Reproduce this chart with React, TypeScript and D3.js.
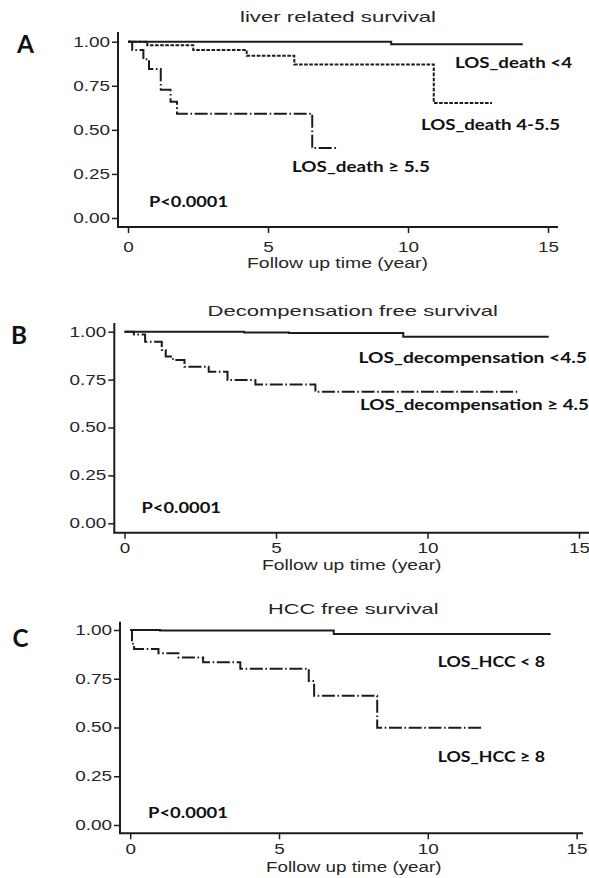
import { useEffect, useRef } from "react";
import * as d3 from "d3";

const W = 589;
const H = 878;
const SX = 1.35; // the source figure is stretched horizontally
const INK = "#1c1c1c";
const SANS = "'Liberation Sans', Arial, sans-serif";
const BOLD = "Lato, 'Open Sans', sans-serif";

const yTicks = [0, 0.25, 0.5, 0.75, 1];
const xTicks = [0, 5, 10, 15];

// A: liver related survival
const aLowT = [0, 9.4, 14.1];
const aLowS = [1, 0.985, 0.985];
const aMidT = [0, 0.69, 2.33, 4.24, 5.94, 10.92, 13.0];
const aMidS = [1, 0.98, 0.953, 0.92, 0.871, 0.653, 0.653];
const aHighT = [0, 0.15, 0.55, 0.75, 1.17, 1.52, 1.75, 6.58, 7.52];
const aHighS = [1, 0.953, 0.9, 0.845, 0.727, 0.66, 0.592, 0.397, 0.397];

// B: decompensation free survival
const bLowT = [0, 3.95, 5.43, 9.2, 14.0];
const bLowS = [1, 0.996, 0.993, 0.974, 0.974];
const bHighT = [0, 0.31, 0.68, 1.23, 1.36, 1.6, 1.98, 2.78, 3.4, 4.32, 6.3, 12.96];
const bHighS = [1, 0.986, 0.948, 0.904, 0.87, 0.852, 0.817, 0.791, 0.748, 0.725, 0.687, 0.687];

// C: HCC free survival
const cLowT = [0, 1.0, 6.84, 14.13];
const cLowS = [1, 0.998, 0.979, 0.979];
const cHighT = [0, 0.06, 0.13, 0.95, 1.62, 2.45, 3.7, 6.0, 6.18, 8.3, 11.85];
const cHighS = [1, 0.93, 0.903, 0.881, 0.859, 0.835, 0.801, 0.738, 0.663, 0.499, 0.499];

const DASH = { solid: null, dash: "3.6,1.5", dashdot: "13,2.6,1.6,2.6" };

const panels = [
  {
    letter: "A", letterX: 17, letterY: 53, letterW: 17,
    title: "liver related survival", titleX: 240, titleY: 22, titleW: 196,
    xr: [128, 548], yr: [218, 41.7],
    axisX: 118, yTop: 32, axisY: 227, xEnd: 558, xPad: 9,
    xlab: { x: 247, y: 268, w: 181 },
    series: [
      { t: aLowT, s: aLowS, style: "solid" },
      { t: aMidT, s: aMidS, style: "dash" },
      { t: aHighT, s: aHighS, style: "dashdot" },
    ],
    labels: [
      { text: "LOS_death <4", x: 455, y: 68, w: 117 },
      { text: "LOS_death 4-5.5", x: 421, y: 130, w: 139 },
      { text: "LOS_death ≥ 5.5", x: 292, y: 172, w: 138 },
      { text: "P<0.0001", x: 149, y: 207, w: 79 },
    ],
  },
  {
    letter: "B", letterX: 11, letterY: 344, letterW: 16,
    title: "Decompensation free survival", titleX: 207.5, titleY: 315.5, titleW: 290.5,
    xr: [124.5, 579], yr: [523.3, 331.7],
    axisX: 114.3, yTop: 323, axisY: 532.7, xEnd: 589, xPad: 4,
    xlab: { x: 262, y: 570, w: 179.5 },
    series: [
      { t: bLowT, s: bLowS, style: "solid" },
      { t: bHighT, s: bHighS, style: "dashdot" },
    ],
    labels: [
      { text: "LOS_decompensation <4.5", x: 358.5, y: 363, w: 228.5 },
      { text: "LOS_decompensation ≥ 4.5", x: 360, y: 410, w: 229 },
      { text: "P<0.0001", x: 141.5, y: 513, w: 79.5 },
    ],
  },
  {
    letter: "C", letterX: 12.5, letterY: 646.7, letterW: 16,
    title: "HCC free survival", titleX: 268, titleY: 613.5, titleW: 170.5,
    xr: [130.2, 576.6], yr: [825, 630],
    axisX: 120, yTop: 621.7, axisY: 833.3, xEnd: 583, xPad: 5,
    xlab: { x: 266, y: 872, w: 175.5 },
    series: [
      { t: cLowT, s: cLowS, style: "solid" },
      { t: cHighT, s: cHighS, style: "dashdot" },
    ],
    labels: [
      { text: "LOS_HCC < 8", x: 437.7, y: 667, w: 107.3 },
      { text: "LOS_HCC ≥ 8", x: 437.7, y: 762, w: 107.3 },
      { text: "P<0.0001", x: 148, y: 818, w: 80 },
    ],
  },
];

function FitText({ x, y, w, size, family, weight, fill, children }) {
  return (
    <text
      x={x}
      y={y}
      textLength={w}
      lengthAdjust="spacingAndGlyphs"
      fontSize={size}
      fontFamily={family}
      fontWeight={weight}
      fill={fill}
    >
      {children}
    </text>
  );
}

function Panel({ cfg }) {
  const gx = useRef(null);
  const gy = useRef(null);
  const x = d3.scaleLinear().domain([0, 15]).range(cfg.xr);
  const y = d3.scaleLinear().domain([0, 1]).range(cfg.yr);

  useEffect(() => {
    const xa = d3.select(gx.current);
    xa.selectAll("*").remove();
    xa.call(
      d3.axisBottom(x).tickValues(xTicks).tickSize(6).tickPadding(cfg.xPad).tickFormat(d3.format("d"))
    );
    xa.attr("font-size", 14).attr("font-family", SANS);
    xa.select(".domain").remove();
    xa.selectAll(".tick line").attr("stroke", INK).attr("stroke-width", 1.5);
    xa.selectAll(".tick text").attr("fill", "#262626").attr("transform", `scale(${SX},1)`);

    const ya = d3.select(gy.current);
    ya.selectAll("*").remove();
    ya.call(
      d3.axisLeft(y).tickValues(yTicks).tickSize(6).tickPadding(2).tickFormat(d3.format(".2f"))
    );
    ya.attr("font-size", 14).attr("font-family", SANS);
    ya.select(".domain").remove();
    ya.selectAll(".tick line").attr("stroke", INK).attr("stroke-width", 1.5);
    ya.selectAll(".tick text")
      .attr("fill", "#262626")
      .attr("x", -8 / SX)
      .attr("transform", `scale(${SX},1)`);
  });

  const line = (t) =>
    d3
      .line()
      .x((_, i) => x(t[i]))
      .y((d) => y(d))
      .curve(d3.curveStepAfter);

  return (
    <g>
      <FitText x={cfg.letterX} y={cfg.letterY} w={cfg.letterW} size={25} family={BOLD} weight={700} fill="#111">
        {cfg.letter}
      </FitText>
      <FitText x={cfg.titleX} y={cfg.titleY} w={cfg.titleW} size={15} family={SANS} weight={400} fill="#262626">
        {cfg.title}
      </FitText>
      {cfg.series.map((sr, i) => (
        <path
          key={i}
          d={line(sr.t)(sr.s)}
          fill="none"
          stroke={INK}
          strokeWidth={2}
          strokeDasharray={DASH[sr.style] || undefined}
        />
      ))}
      <line x1={cfg.axisX} x2={cfg.axisX} y1={cfg.yTop} y2={cfg.axisY} stroke={INK} strokeWidth={2} />
      <line x1={cfg.axisX - 1} x2={cfg.xEnd} y1={cfg.axisY} y2={cfg.axisY} stroke={INK} strokeWidth={2} />
      <g ref={gx} transform={`translate(0,${cfg.axisY})`} />
      <g ref={gy} transform={`translate(${cfg.axisX},0)`} />
      <FitText x={cfg.xlab.x} y={cfg.xlab.y} w={cfg.xlab.w} size={14} family={SANS} weight={400} fill="#262626">
        Follow up time (year)
      </FitText>
      {cfg.labels.map((l, i) => (
        <FitText key={i} x={l.x} y={l.y} w={l.w} size={15} family={BOLD} weight={700} fill="#111">
          {l.text}
        </FitText>
      ))}
    </g>
  );
}

export default function App() {
  return (
    <div style={{ position: "absolute", left: 0, top: 0 }}>
      <svg width={W} height={H} style={{ display: "block", background: "#fff" }}>
        {panels.map((p) => (
          <Panel key={p.letter} cfg={p} />
        ))}
      </svg>
    </div>
  );
}
